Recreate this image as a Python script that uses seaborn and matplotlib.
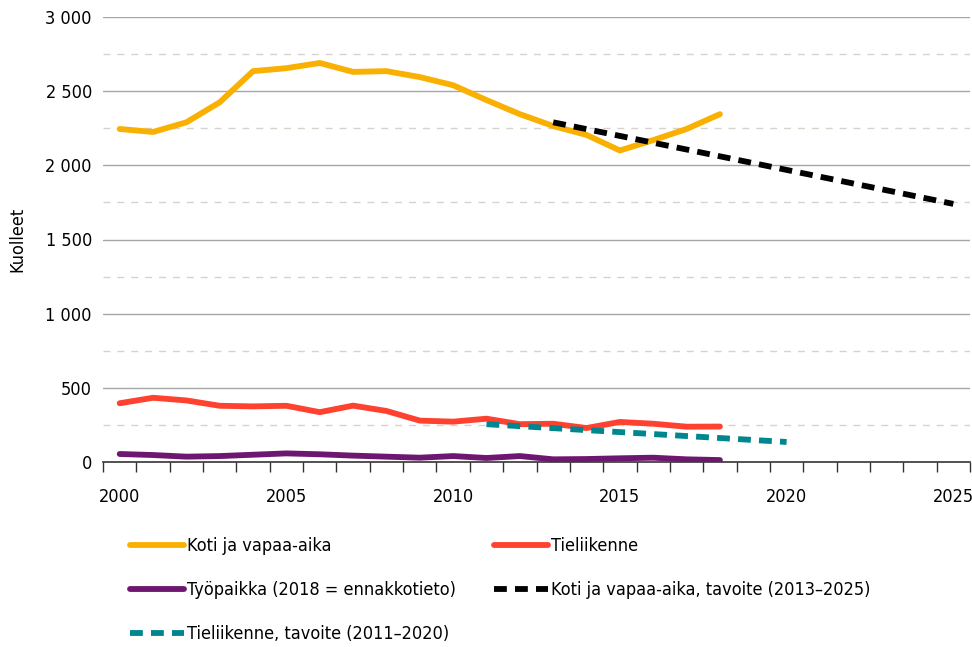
import matplotlib
matplotlib.use("Agg")
import matplotlib.pyplot as plt
from matplotlib.ticker import FixedLocator, FuncFormatter
import seaborn as sns

years = list(range(2000, 2019))
koti = [2245, 2225, 2290, 2425, 2635, 2655, 2690, 2630, 2635, 2595, 2540,
        2440, 2345, 2265, 2205, 2100, 2170, 2245, 2345]
tieliikenne = [396, 433, 415, 379, 375, 379, 336, 380, 344, 279, 272,
               292, 255, 258, 229, 270, 258, 238, 239]
tyopaikka = [54, 47, 36, 40, 49, 58, 52, 43, 36, 29, 40,
             27, 40, 18, 20, 25, 29, 18, 13]
koti_target_years = [2013, 2025]
koti_target = [2290, 1740]
tie_target_years = [2011, 2020]
tie_target = [255, 135]

labels = ["Koti ja vapaa-aika", "Tieliikenne", "Työpaikka (2018 = ennakkotieto)",
          "Koti ja vapaa-aika, tavoite (2013–2025)", "Tieliikenne, tavoite (2011–2020)"]
ytick_vals = [0, 500, 1000, 1500, 2000, 2500, 3000]
xtick_vals = [2000, 2005, 2010, 2015, 2020, 2025]

sns.set_theme(style="white")
plt.rcParams['font.family'] = ['DejaVu Sans']
plt.rcParams['font.stretch'] = 'condensed'
plt.rcParams['text.color'] = 'black'
plt.rcParams['axes.labelcolor'] = 'black'

fig = plt.figure(figsize=(9.72, 6.47), dpi=100)
ax = fig.add_axes([103/972, 1-462/647, (970-103)/972, (462-17)/647])

lw = 4.2
sns.lineplot(x=years, y=koti, ax=ax, color="#F9B000", lw=lw, label=labels[0],
             solid_capstyle="round", zorder=4)
sns.lineplot(x=years, y=tieliikenne, ax=ax, color="#FF4130", lw=lw, label=labels[1],
             solid_capstyle="round", zorder=4)
sns.lineplot(x=years, y=tyopaikka, ax=ax, color="#6E1770", lw=lw, label=labels[2],
             solid_capstyle="round", zorder=4)
sns.lineplot(x=koti_target_years, y=koti_target, ax=ax, color="black", lw=lw,
             label=labels[3], zorder=5)
ax.lines[-1].set_dashes((2.2, 1.4))
sns.lineplot(x=tie_target_years, y=tie_target, ax=ax, color="#00868F", lw=lw,
             label=labels[4], zorder=5)
ax.lines[-1].set_dashes((2.2, 1.4))

ax.set_xlim(1999.5, 2025.5)
ax.set_ylim(0, 3000)
ax.set_yticks(ytick_vals)
ax.yaxis.set_major_formatter(FuncFormatter(lambda v, p: f"{int(v):,}".replace(",", " ")))
ax.set_xticks(xtick_vals)
ax.xaxis.set_minor_locator(FixedLocator([y + 0.5 for y in range(1999, 2026)]))
ax.tick_params(axis="x", which="major", bottom=True, length=0, pad=19, labelsize=13, colors="black")
ax.tick_params(axis="x", which="minor", bottom=True, length=7, width=1, color="#333333", direction="out")
ax.tick_params(axis="y", length=0, pad=8, labelsize=13, colors="black")

for v in ytick_vals[1:]:
    ax.axhline(v, color="#a6a6a6", lw=1.0, zorder=1)
for v in [250, 750, 1250, 1750, 2250, 2750]:
    ax.axhline(v, color="#d9d2cb", lw=1.0, ls=(0, (5, 5)), zorder=1)

for s in ["top", "right", "left"]:
    ax.spines[s].set_visible(False)
ax.spines["bottom"].set_color("#333333")
ax.spines["bottom"].set_linewidth(1.2)

ax.set_ylabel("Kuolleet", fontsize=13, labelpad=14, color="black")
ax.set_xlabel("")

handles, labs = ax.get_legend_handles_labels()
ax.get_legend().remove()
order = [0, 2, 4, 1, 3]
fig.legend([handles[i] for i in order], [labs[i] for i in order],
           loc="upper left", bbox_to_anchor=(130/972, 1-537/647), ncol=2,
           frameon=False, fontsize=13, handlelength=3.0, handletextpad=0.15,
           labelspacing=1.45, columnspacing=2.1, borderaxespad=0, borderpad=0,
           labelcolor="black")

fig.savefig("out.png", dpi=100)
